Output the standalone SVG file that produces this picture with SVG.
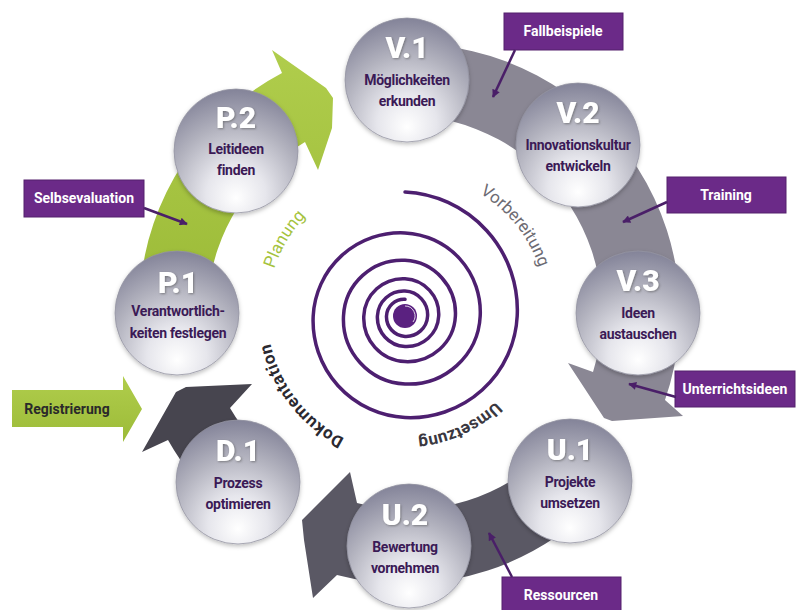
<svg xmlns="http://www.w3.org/2000/svg" width="800" height="610" viewBox="0 0 800 610">
<style>
.head{font-family:Roboto,"Liberation Sans",sans-serif;font-weight:900;font-size:30px;fill:#ffffff;text-anchor:middle;filter:url(#ts)}
.lbl{font-family:Roboto,"Liberation Sans",sans-serif;font-weight:700;font-size:14px;letter-spacing:-0.3px;fill:#3b1a56;text-anchor:middle}
.box{fill:#6b2a88;stroke:#54206d;stroke-width:1}
.boxt{font-family:Roboto,"Liberation Sans",sans-serif;font-weight:700;font-size:14px;fill:#ffffff;text-anchor:middle}
.call{stroke:#4a1f68;stroke-width:2.5;fill:none;marker-end:url(#ah)}
.sph{fill:url(#sg);stroke:#9494a2;stroke-width:0.8;filter:url(#sh)}
.ring{font-family:Roboto,"Liberation Sans",sans-serif;font-size:17px;text-anchor:middle}
</style>
<defs>
<radialGradient id="sg" cx="50%" cy="78%" r="80%" fx="50%" fy="88%">
<stop offset="0" stop-color="#ffffff"/>
<stop offset="0.3" stop-color="#e6e6ec"/>
<stop offset="0.65" stop-color="#b2b2be"/>
<stop offset="1" stop-color="#808096"/>
</radialGradient>
<linearGradient id="gg" x1="0" y1="0" x2="0" y2="1">
<stop offset="0" stop-color="#b0cd4c"/>
<stop offset="1" stop-color="#9cbb38"/>
</linearGradient>
<filter id="sh" x="-20%" y="-20%" width="140%" height="140%">
<feDropShadow dx="0" dy="2" stdDeviation="2" flood-color="#000" flood-opacity="0.25"/>
</filter>
<filter id="ts" x="-20%" y="-20%" width="140%" height="140%">
<feDropShadow dx="1" dy="1" stdDeviation="1" flood-color="#555" flood-opacity="0.6"/>
</filter>
<marker id="ah" viewBox="0 0 10 10" refX="9" refY="5" markerWidth="10" markerHeight="8" markerUnits="userSpaceOnUse" orient="auto">
<path d="M0,0 L10,5 L0,10 Z" fill="#4a1f68"/>
</marker>
<path id="rp" d="M 547,313 A 140 140 0 1 1 267,313 A 140 140 0 1 1 547,313"/>
<path id="rpu" d="M 532,313 A 125 125 0 1 1 282,313 A 125 125 0 1 1 532,313"/>
</defs>

<g id="cycle-arrows">
<path id="arrow-planung" fill="url(#gg)" d="M 140,289.6 A 268 268 0 0 1 282,73 L 272,50 L 326,88 L 333,98 L 332,128 L 318,170 L 305,142 A 200 200 0 0 0 207.8,295.6 Z"/>
<path id="arrow-vorbereitung" fill="#8a8794" d="M 369.7,47.6 A 268 268 0 0 1 665,400 L 683,416 L 612,421 L 604,418 L 568,363 L 593,372 A 198 198 0 0 0 379.4,116.9 Z"/>
<path id="arrow-umsetzung" fill="#5a5864" d="M 612.3,485.3 A 268 268 0 0 1 337,575 L 313,598 L 304,540 L 302,520 L 350,472 L 357,503 A 198 198 0 0 0 558.7,440.3 Z"/>
<path id="arrow-dokumentation" fill="#47454f" d="M 234.7,518.3 A 270 270 0 0 1 168,440 L 142,452 L 176,392 L 186,387 L 252,384 L 230,408 A 198 198 0 0 0 279.7,464.7 Z"/>
</g>

<g id="spiral">
<path fill="none" stroke="#4d1f70" stroke-width="3.5" stroke-linecap="round" d="M 405,192 A 118.1 118.1 0 0 1 517.2,316 A 106.9 106.9 0 0 1 405,417.5 A 96.7 96.7 0 0 1 313.2,316 A 87.5 87.5 0 0 1 405,232.9 A 79.2 79.2 0 0 1 480.2,316 A 71.6 71.6 0 0 1 405,384 A 64.8 64.8 0 0 1 343.5,316 A 58.6 58.6 0 0 1 405,260.3 A 53.1 53.1 0 0 1 455.4,316 A 48 48 0 0 1 405,361.6 A 43.4 43.4 0 0 1 363.8,316 A 39.3 39.3 0 0 1 405,278.7 A 35.5 35.5 0 0 1 438.7,316 A 32.1 32.1 0 0 1 405,346.5 A 29.1 29.1 0 0 1 377.4,316 A 26.3 26.3 0 0 1 405,291 A 23.8 23.8 0 0 1 427.6,316 A 21.5 21.5 0 0 1 405,336.4 A 19.5 19.5 0 0 1 386.5,316 A 17.6 17.6 0 0 1 405,299.3"/>
<circle cx="405" cy="316" r="12" fill="#5a2180"/>
<path d="M 405,306 A 10 10 0 0 1 413,322" fill="none" stroke="#ffffff" stroke-width="1" opacity="0.8"/>
</g>

<g id="phase-labels">
<text class="ring" fill="#a5c33d"><textPath href="#rp" startOffset="515.5">Planung</textPath></text>
<text class="ring" fill="#6d6b73"><textPath href="#rp" startOffset="784.3">Vorbereitung</textPath></text>
<text class="ring" fill="#2b2930" font-weight="700" letter-spacing="0.6"><textPath href="#rp" startOffset="347">Dokumentation</textPath></text>
<text class="ring" fill="#3a3840" font-weight="700"><textPath href="#rpu" startOffset="141.8">Umsetzung</textPath></text>
</g>

<g id="node-V1"><circle class="sph" cx="407" cy="80" r="62"/><text class="head" x="407" y="58">V.1</text><text class="lbl" x="407" y="85">Möglichkeiten</text><text class="lbl" x="407" y="106">erkunden</text></g>
<g id="node-V2"><circle class="sph" cx="578" cy="145" r="62"/><text class="head" x="578" y="123">V.2</text><text class="lbl" x="578" y="150">Innovationskultur</text><text class="lbl" x="578" y="171">entwickeln</text></g>
<g id="node-V3"><circle class="sph" cx="638" cy="313" r="62"/><text class="head" x="638" y="291">V.3</text><text class="lbl" x="638" y="318">Ideen</text><text class="lbl" x="638" y="339">austauschen</text></g>
<g id="node-U1"><circle class="sph" cx="570" cy="481" r="62"/><text class="head" x="570" y="460">U.1</text><text class="lbl" x="570" y="487">Projekte</text><text class="lbl" x="570" y="508">umsetzen</text></g>
<g id="node-U2"><circle class="sph" cx="409" cy="546" r="62"/><text class="head" x="405" y="525">U.2</text><text class="lbl" x="405" y="552">Bewertung</text><text class="lbl" x="405" y="573">vornehmen</text></g>
<g id="node-D1"><circle class="sph" cx="238" cy="482" r="62"/><text class="head" x="238" y="461">D.1</text><text class="lbl" x="238" y="488">Prozess</text><text class="lbl" x="238" y="509">optimieren</text></g>
<g id="node-P1"><circle class="sph" cx="177" cy="313" r="62"/><text class="head" x="178" y="293">P.1</text><text class="lbl" x="178" y="316">Verantwortlich-</text><text class="lbl" x="178" y="338">keiten festlegen</text></g>
<g id="node-P2"><circle class="sph" cx="236" cy="151" r="62"/><text class="head" x="236" y="128">P.2</text><text class="lbl" x="236" y="154">Leitideen</text><text class="lbl" x="236" y="175">finden</text></g>

<g id="node-Fallbeispiele"><rect class="box" x="504" y="13" width="119" height="37"/><text class="boxt" x="563" y="36">Fallbeispiele</text></g>
<g id="node-Training"><rect class="box" x="667" y="177" width="119" height="36"/><text class="boxt" x="726" y="200">Training</text></g>
<g id="node-Selbsevaluation"><rect class="box" x="24" y="180" width="120" height="37"/><text class="boxt" x="84" y="203">Selbsevaluation</text></g>
<g id="node-Unterrichtsideen"><rect class="box" x="675" y="371" width="120" height="36"/><text class="boxt" x="735" y="394">Unterrichtsideen</text></g>
<g id="node-Ressourcen"><rect class="box" x="502" y="577" width="119" height="36"/><text class="boxt" x="561" y="600">Ressourcen</text></g>
<g id="node-Registrierung"><path d="M 12,390 L 123,390 L 123,376 L 142,409 L 123,442 L 123,427 L 12,427 Z" fill="url(#gg)"/><text x="67" y="414" font-family="Roboto,'Liberation Sans',sans-serif" font-weight="700" font-size="14" fill="#2a2a2a" text-anchor="middle">Registrierung</text></g>

<g id="connectors">
<line class="call" x1="515" y1="50" x2="493" y2="97"/>
<line class="call" x1="667" y1="202" x2="623" y2="222"/>
<line class="call" x1="144" y1="208" x2="187" y2="224"/>
<line class="call" x1="676" y1="397" x2="629" y2="384"/>
<line class="call" x1="512" y1="577" x2="489" y2="533"/>
</g>
</svg>
